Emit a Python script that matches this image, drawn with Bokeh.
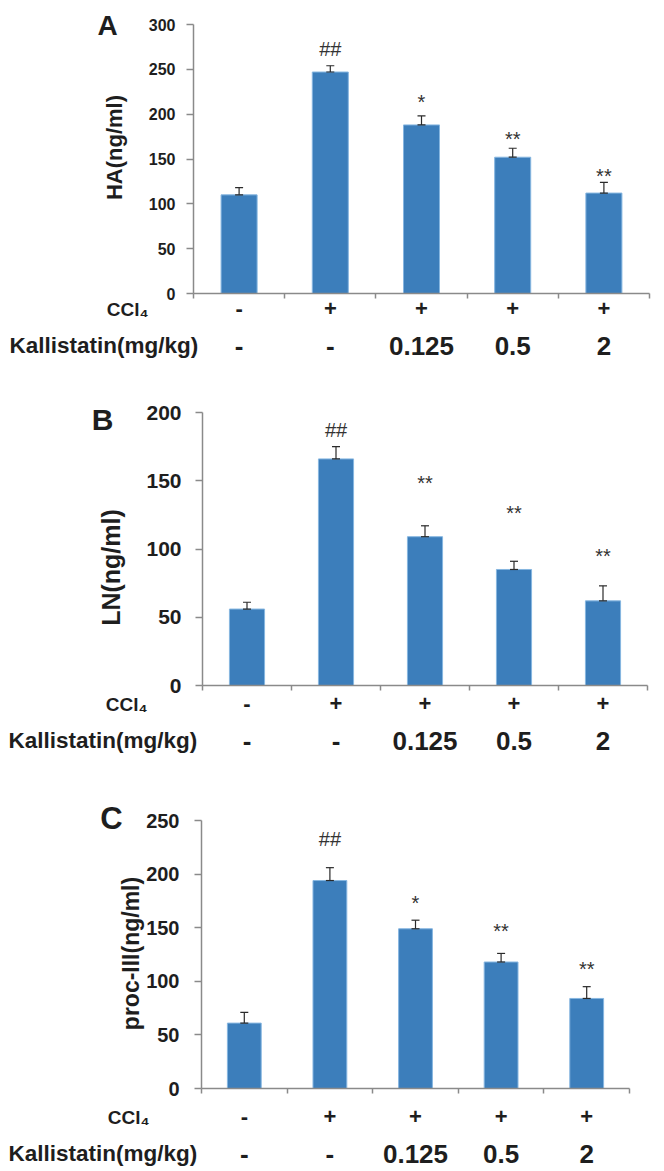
import math
from bokeh.plotting import figure
from bokeh.models import (ColumnDataSource, Range1d, FixedTicker, Whisker, TeeHead,
                          Label, LabelSet, LinearAxis)
from bokeh.layouts import column
from bokeh.embed import file_html
from bokeh.resources import INLINE
from bokeh.core.properties import value

# ---------------- data ----------------
groups = [0, 1, 2, 3, 4]
ccl4_labels = ["-", "+", "+", "+", "+"]
kallistatin_labels = ["-", "-", "0.125", "0.5", "2"]

ha_mean = [110, 247, 188, 152, 112]
ha_err = [8, 7, 10, 10, 12]
ha_sig = ["", "##", "*", "**", "**"]
ha_sig_y = [0, 280, 227, 186, 144]

ln_mean = [56, 166, 109, 85, 62]
ln_err = [5, 9, 8, 6, 11]
ln_sig = ["", "##", "**", "**", "**"]
ln_sig_y = [0, 192, 157, 135, 104]

pc_mean = [61, 194, 149, 118, 84]
pc_err = [10, 12, 8, 8, 11]
pc_sig = ["", "##", "*", "**", "**"]
pc_sig_y = [0, 239, 184, 158, 123]

# ---------------- style ----------------
FONT = "Liberation Sans"
BAR = "#3c7ebb"
EDGE = "#86b6e0"
AXC = "#8a8a8a"
TXT = "#1e1e1e"
W = 660


def panel(letter, ylabel, mean, err, sig, sig_y, ymax, g):
    H = g["H"]
    # pixel layout of the plotting area inside this figure (top-left origin)
    left, right, top, bottom = g["box"]
    kx = 5.0 / (right - left)
    x0 = -0.5 - left * kx
    x1 = 4.5 + (W - right) * kx
    ky = ymax / (bottom - top)
    y0 = -(H - bottom) * ky
    y1 = ymax + top * ky

    p = figure(width=W, height=H, x_range=Range1d(x0, x1), y_range=Range1d(y0, y1),
               output_backend="svg", toolbar_location=None,
               x_axis_type=None, y_axis_type=None,
               min_border=0, min_border_left=0, min_border_right=0,
               min_border_top=0, min_border_bottom=0)
    p.outline_line_color = None
    p.background_fill_color = "white"
    p.border_fill_color = "white"

    yax = LinearAxis(ticker=FixedTicker(ticks=list(range(0, ymax + 1, 50))),
                     fixed_location=-0.5, bounds=(0, ymax),
                     axis_line_color=AXC, axis_line_width=1.5,
                     major_tick_line_color=AXC, major_tick_line_width=1.5,
                     major_tick_out=7, major_tick_in=0,
                     minor_tick_line_color=None,
                     major_label_standoff=g["ystd"],
                     major_label_text_font=FONT, major_label_text_font_style="bold",
                     major_label_text_font_size=g["tick_fs"], major_label_text_color=TXT)
    p.add_layout(yax, "left")

    xax = LinearAxis(ticker=FixedTicker(ticks=[-0.5, 0.5, 1.5, 2.5, 3.5, 4.5]),
                     fixed_location=0, bounds=(-0.5, 4.5),
                     axis_line_color=AXC, axis_line_width=1.5,
                     major_tick_line_color=AXC, major_tick_line_width=1.5,
                     major_tick_out=5, major_tick_in=0,
                     minor_tick_line_color=None,
                     major_label_text_color=None, major_label_text_font_size="1px")
    p.add_layout(xax, "below")

    upper = [m + e for m, e in zip(mean, err)]
    src = ColumnDataSource(dict(x=groups, top=mean, upper=upper))
    p.vbar(x="x", top="top", bottom=0, width=0.395, source=src,
           fill_color=BAR, line_color=EDGE, line_width=1)

    w = Whisker(source=src, base="x", lower="top", upper="upper",
                line_color="#2a2a2a", line_width=1.2,
                upper_head=TeeHead(size=8, line_color="#2a2a2a", line_width=1.2),
                lower_head=TeeHead(size=8, line_color="#2a2a2a", line_width=1.2))
    w.level = "overlay"
    p.add_layout(w)

    offs = [7 if s.startswith("#") else 12 for s in sig]
    ssrc = ColumnDataSource(dict(x=groups, y=sig_y, t=sig, off=offs))
    p.text(x="x", y="y", text="t", y_offset="off", source=ssrc,
           text_align="center", text_baseline="alphabetic",
           text_font=value(FONT), text_font_size="20px", text_color="#333333")

    def sy(py):  # pixel row (from top of this figure) -> screen units from bottom
        return H - py

    rows = ColumnDataSource(dict(x=groups, c=ccl4_labels, k=kallistatin_labels))
    p.add_layout(LabelSet(x="x", y=sy(g["row1"]), y_units="screen", text="c", source=rows,
                          text_align="center", text_baseline="middle",
                          text_font=value(FONT), text_font_style="bold",
                          text_font_size="22px", text_color=TXT))
    p.add_layout(LabelSet(x="x", y=sy(g["row2"]), y_units="screen", text="k", source=rows,
                          text_align="center", text_baseline="middle",
                          text_font=value(FONT), text_font_style="bold",
                          text_font_size="26px", text_color=TXT))

    p.add_layout(Label(x=g["ccl_x"], y=sy(g["row1"] + 1), x_units="screen", y_units="screen",
                       text="CCl₄", text_align="right", text_baseline="middle",
                       text_font=FONT, text_font_style="bold", text_font_size="19px",
                       text_color=TXT))
    p.add_layout(Label(x=g["kal_x"], y=sy(g["row2"]), x_units="screen", y_units="screen",
                       text="Kallistatin(mg/kg)", text_align="left", text_baseline="middle",
                       text_font=FONT, text_font_style="bold", text_font_size="22.5px",
                       text_color=TXT))
    p.add_layout(Label(x=g["yl"][0], y=sy(g["yl"][1]), x_units="screen", y_units="screen",
                       text=ylabel, angle=math.pi / 2, text_align="center",
                       text_baseline="middle", text_font=FONT, text_font_style="bold",
                       text_font_size=g["yl_fs"], text_color=TXT))
    p.add_layout(Label(x=g["let"][0], y=sy(g["let"][1]), x_units="screen", y_units="screen",
                       text=letter, text_align="center", text_baseline="middle",
                       text_font=FONT, text_font_style="bold", text_font_size=g["let_fs"],
                       text_color=TXT))
    return p


# layout (pixels inside each figure, from its top-left corner)
gA = dict(H=360, box=(193, 649, 24, 293), ystd=11, tick_fs="16px",
          row1=308, row2=345, ccl_x=148, kal_x=9,
          yl=(114, 147), yl_fs="22px", let=(107, 25), let_fs="28px")
gB = dict(H=400, box=(202, 647, 52, 325), ystd=14, tick_fs="21px",
          row1=343, row2=380, ccl_x=147, kal_x=8,
          yl=(110, 207), yl_fs="25px", let=(102, 59), let_fs="30px")
gC = dict(H=408, box=(201, 629, 60, 328), ystd=15, tick_fs="20px",
          row1=356, row2=393, ccl_x=149, kal_x=8,
          yl=(130, 193), yl_fs="23px", let=(111, 58), let_fs="31px")

pA = panel("A", "HA(ng/ml)", ha_mean, ha_err, ha_sig, ha_sig_y, 300, gA)
pB = panel("B", "LN(ng/ml)", ln_mean, ln_err, ln_sig, ln_sig_y, 200, gB)
pC = panel("C", "proc-III(ng/ml)", pc_mean, pc_err, pc_sig, pc_sig_y, 250, gC)

layout = column(pA, pB, pC, spacing=0)
open("out.html", "w").write(file_html(layout, INLINE))
